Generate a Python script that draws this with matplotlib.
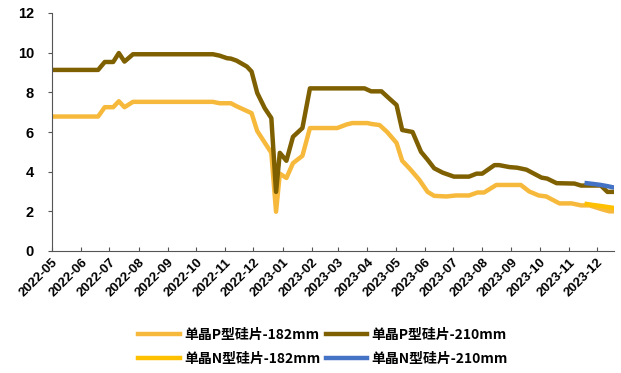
import pandas as pd
import matplotlib.pyplot as plt
import matplotlib.dates as mdates

# 单晶P型硅片-182mm
p182_dates = ['2022-05-01', '2022-06-19', '2022-06-26', '2022-07-05', '2022-07-11', '2022-07-17',
              '2022-07-26', '2022-10-19', '2022-10-26', '2022-11-07', '2022-11-13', '2022-11-29',
              '2022-12-05', '2022-12-20', '2022-12-25', '2022-12-29', '2023-01-05', '2023-01-12',
              '2023-01-22', '2023-01-30', '2023-02-28', '2023-03-10', '2023-03-16', '2023-04-01',
              '2023-04-06', '2023-04-14', '2023-04-22', '2023-05-02', '2023-05-08', '2023-05-16',
              '2023-05-26', '2023-06-04', '2023-06-11', '2023-06-24', '2023-07-04', '2023-07-18',
              '2023-07-27', '2023-08-03', '2023-08-16', '2023-09-11', '2023-09-20', '2023-09-30',
              '2023-10-08', '2023-10-22', '2023-11-04', '2023-11-14', '2023-11-23', '2023-12-05',
              '2023-12-14', '2023-12-19']
p182_vals = [6.78, 6.78, 7.25, 7.25, 7.55, 7.25,
             7.52, 7.52, 7.45, 7.45, 7.3, 6.95,
             6.05, 4.95, 1.98, 3.9, 3.68, 4.43,
             4.8, 6.2, 6.2, 6.38, 6.45, 6.45,
             6.4, 6.35, 6.0, 5.45, 4.55, 4.15,
             3.6, 2.98, 2.78, 2.75, 2.8, 2.8,
             2.95, 2.95, 3.33, 3.33, 3.0, 2.8,
             2.75, 2.4, 2.4, 2.3, 2.3, 2.12,
             2.0, 2.0]

# 单晶P型硅片-210mm
p210_dates = ['2022-05-01', '2022-06-19', '2022-06-26', '2022-07-05', '2022-07-11', '2022-07-17',
              '2022-07-26', '2022-10-19', '2022-10-26', '2022-11-03', '2022-11-07', '2022-11-13',
              '2022-11-24', '2022-11-29', '2022-12-05', '2022-12-13', '2022-12-20', '2022-12-25',
              '2022-12-29', '2023-01-05', '2023-01-12', '2023-01-22', '2023-01-30', '2023-03-29',
              '2023-04-05', '2023-04-16', '2023-04-24', '2023-05-02', '2023-05-08', '2023-05-19',
              '2023-05-28', '2023-06-04', '2023-06-11', '2023-06-20', '2023-07-02', '2023-07-18',
              '2023-07-26', '2023-08-01', '2023-08-14', '2023-08-19', '2023-08-30', '2023-09-07',
              '2023-09-17', '2023-09-25', '2023-10-03', '2023-10-09', '2023-10-19', '2023-11-07',
              '2023-11-14', '2023-12-05', '2023-12-12', '2023-12-19']
p210_vals = [9.13, 9.13, 9.53, 9.53, 9.98, 9.55,
             9.92, 9.92, 9.85, 9.72, 9.7, 9.6,
             9.3, 9.05, 7.97, 7.2, 6.7, 2.98,
             4.95, 4.55, 5.76, 6.2, 8.2, 8.2,
             8.05, 8.05, 7.7, 7.36, 6.1, 6.0,
             5.0, 4.6, 4.17, 3.95, 3.75, 3.75,
             3.9, 3.9, 4.33, 4.33, 4.23, 4.2,
             4.1, 3.9, 3.7, 3.65, 3.42, 3.4,
             3.3, 3.3, 2.98, 2.98]

# 单晶N型硅片-182mm / -210mm
n_dates = ['2023-11-20', '2023-11-27', '2023-12-05', '2023-12-12', '2023-12-19']
n182_vals = [2.37, 2.32, 2.27, 2.22, 2.17]
n210_vals = [3.42, 3.38, 3.33, 3.27, 3.2]

labels = ['单晶P型硅片-182mm', '单晶P型硅片-210mm', '单晶N型硅片-182mm', '单晶N型硅片-210mm']
colors = ['#F6B93B', '#7F6000', '#FFC000', '#4472C4']

fig = plt.figure(figsize=(6.21, 3.73), dpi=100)
ax = fig.add_axes([52 / 621, 1 - 251 / 373, 562 / 621, 238 / 373])

l1, = ax.plot(pd.to_datetime(p182_dates), p182_vals, color=colors[0], lw=3.2, label=labels[0])
l2, = ax.plot(pd.to_datetime(p210_dates), p210_vals, color=colors[1], lw=3.2, label=labels[1])
l3, = ax.plot(pd.to_datetime(n_dates), n182_vals, color=colors[2], lw=3.2, label=labels[2])
l4, = ax.plot(pd.to_datetime(n_dates), n210_vals, color=colors[3], lw=3.2, label=labels[3])

ax.set_ylim(0, 12)
ax.set_yticks(range(0, 13, 2))
ax.set_xlim(pd.Timestamp('2022-05-01'), pd.Timestamp('2023-12-19'))
ax.xaxis.set_major_locator(mdates.MonthLocator())
ax.xaxis.set_major_formatter(mdates.DateFormatter('%Y-%m'))

for s in ['top', 'right']:
    ax.spines[s].set_visible(False)
for s in ['left', 'bottom']:
    ax.spines[s].set_color('#555555')
    ax.spines[s].set_linewidth(0.8)

ax.tick_params(axis='x', direction='in', length=3, color='#555555', pad=4)
ax.tick_params(axis='y', direction='out', length=3, color='#555555', pad=10)
for t in ax.get_yticklabels():
    t.set_fontfamily('Liberation Sans')
    t.set_fontweight('bold')
    t.set_fontsize(10.5)
for t in ax.get_xticklabels():
    t.set_fontfamily('Liberation Sans')
    t.set_fontweight('bold')
    t.set_fontsize(9.5)
    t.set_rotation(45)
    t.set_ha('right')
    t.set_rotation_mode('anchor')

# legend fills column-wise, so order handles to get P in row 1, N in row 2
fig.legend([l1, l3, l2, l4], [labels[0], labels[2], labels[1], labels[3]],
           loc='center', bbox_to_anchor=(323 / 621, 1 - 347 / 373), ncol=2, frameon=False,
           handlelength=3.0, handletextpad=0.3, columnspacing=0.4, labelspacing=0.75,
           prop={'family': ['Noto Sans CJK SC', 'DejaVu Sans'], 'weight': 'bold', 'size': 10})

fig.savefig('out.png', dpi=100)
